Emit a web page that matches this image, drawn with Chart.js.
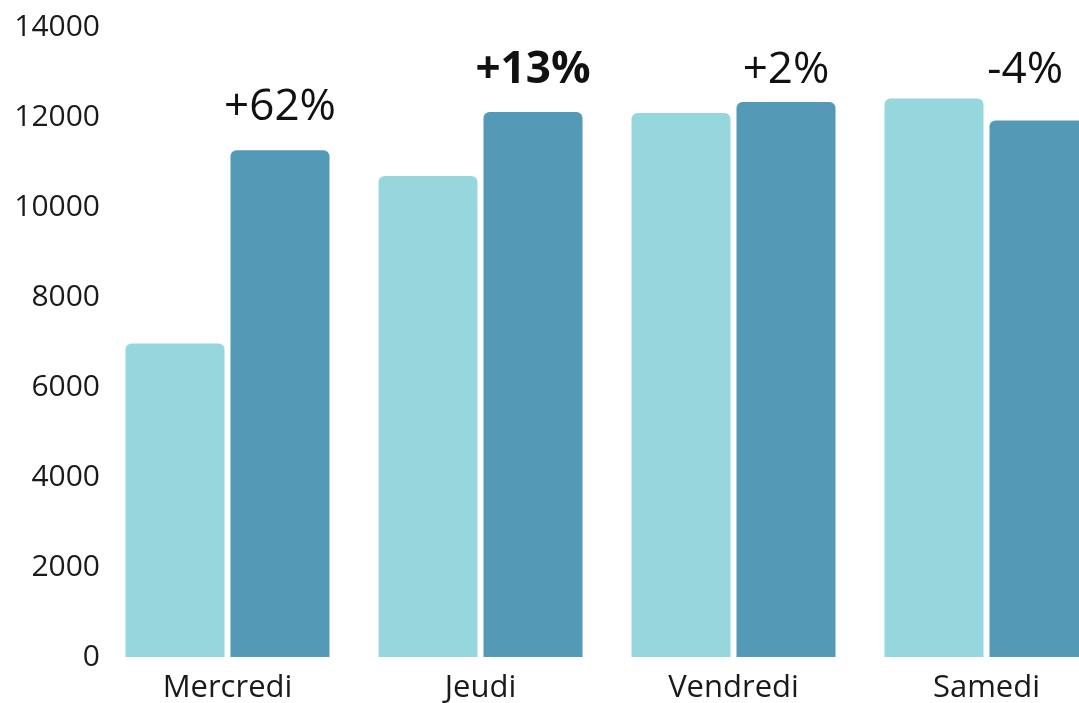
<!DOCTYPE html>
<html>
<head>
<meta charset="utf-8">
<script src="https://cdn.jsdelivr.net/npm/chart.js@4/dist/chart.umd.min.js"></script>
<style>
  html, body { margin: 0; padding: 0; background: #ffffff; overflow: hidden; }
  #wrap { width: 1113px; height: 703px; }
</style>
</head>
<body>
<div id="wrap"><canvas id="c" width="1113" height="703"></canvas></div>
<script>
const categories = ['Mercredi', 'Jeudi', 'Vendredi', 'Samedi'];
const seriesBefore = [6965, 10690, 12090, 12410];
const seriesAfter = [11260, 12110, 12335, 11925];
const changeLabels = ['+62%', '+13%', '+2%', '-4%'];
const boldLabels = [false, true, false, false];
const yTicks = [0, 2000, 4000, 6000, 8000, 10000, 12000, 14000];

const FONT = '"Open Sans", "Noto Sans", sans-serif';

const changeLabelPlugin = {
  id: 'changeLabels',
  afterDatasetsDraw(chart) {
    const ctx = chart.ctx;
    const m0 = chart.getDatasetMeta(0).data;
    const m1 = chart.getDatasetMeta(1).data;
    const area = chart.chartArea;
    const visibleRight = Math.min(chart.width, window.innerWidth) - 16;
    ctx.save();
    ctx.fillStyle = '#111111';
    ctx.textAlign = 'center';
    ctx.textBaseline = 'alphabetic';
    changeLabels.forEach((txt, i) => {
      const a = m0[i], b = m1[i];
      if (!a || !b) return;
      ctx.font = (boldLabels[i] ? 'bold ' : '') + '44px ' + FONT;
      const groupTop = Math.min(a.y, b.y);
      const baseY = Math.max(groupTop - 30, area.top + 56);
      const w = ctx.measureText(txt).width;
      let x = b.x;
      if (x + w / 2 > visibleRight) x = visibleRight - w / 2;
      ctx.fillText(txt, x, baseY);
    });
    ctx.restore();
  }
};

const barRadius = { topLeft: 6, topRight: 6, bottomLeft: 0, bottomRight: 0 };

new Chart(document.getElementById('c'), {
  type: 'bar',
  data: {
    labels: categories,
    datasets: [
      {
        label: 'Avant',
        data: seriesBefore,
        backgroundColor: '#96d7de',
        borderRadius: barRadius,
        borderSkipped: false,
        categoryPercentage: 0.83,
        barPercentage: 0.943
      },
      {
        label: 'Après',
        data: seriesAfter,
        backgroundColor: '#5499b6',
        borderRadius: barRadius,
        borderSkipped: false,
        categoryPercentage: 0.83,
        barPercentage: 0.943
      }
    ]
  },
  options: {
    responsive: false,
    animation: false,
    devicePixelRatio: 1,
    layout: { padding: { top: 27, left: 0, right: 0, bottom: 0 } },
    plugins: {
      legend: { display: false },
      tooltip: { enabled: false }
    },
    scales: {
      x: {
        grid: { display: false, drawTicks: false },
        border: { display: false },
        ticks: {
          color: '#1a1a1a',
          font: { family: FONT, size: 31 },
          padding: 13,
          maxRotation: 0
        },
        afterFit(scale) { scale.height = 46; }
      },
      y: {
        min: 0,
        max: 14000,
        grid: { display: false, drawTicks: false },
        border: { display: false },
        afterBuildTicks(scale) { scale.ticks = yTicks.map(v => ({ value: v })); },
        ticks: {
          color: '#1a1a1a',
          font: { family: FONT, size: 30 },
          padding: 1,
          callback: (v) => String(v)
        },
        afterFit(scale) { scale.width = 101; }
      }
    }
  },
  plugins: [changeLabelPlugin]
});
</script>
</body>
</html>
